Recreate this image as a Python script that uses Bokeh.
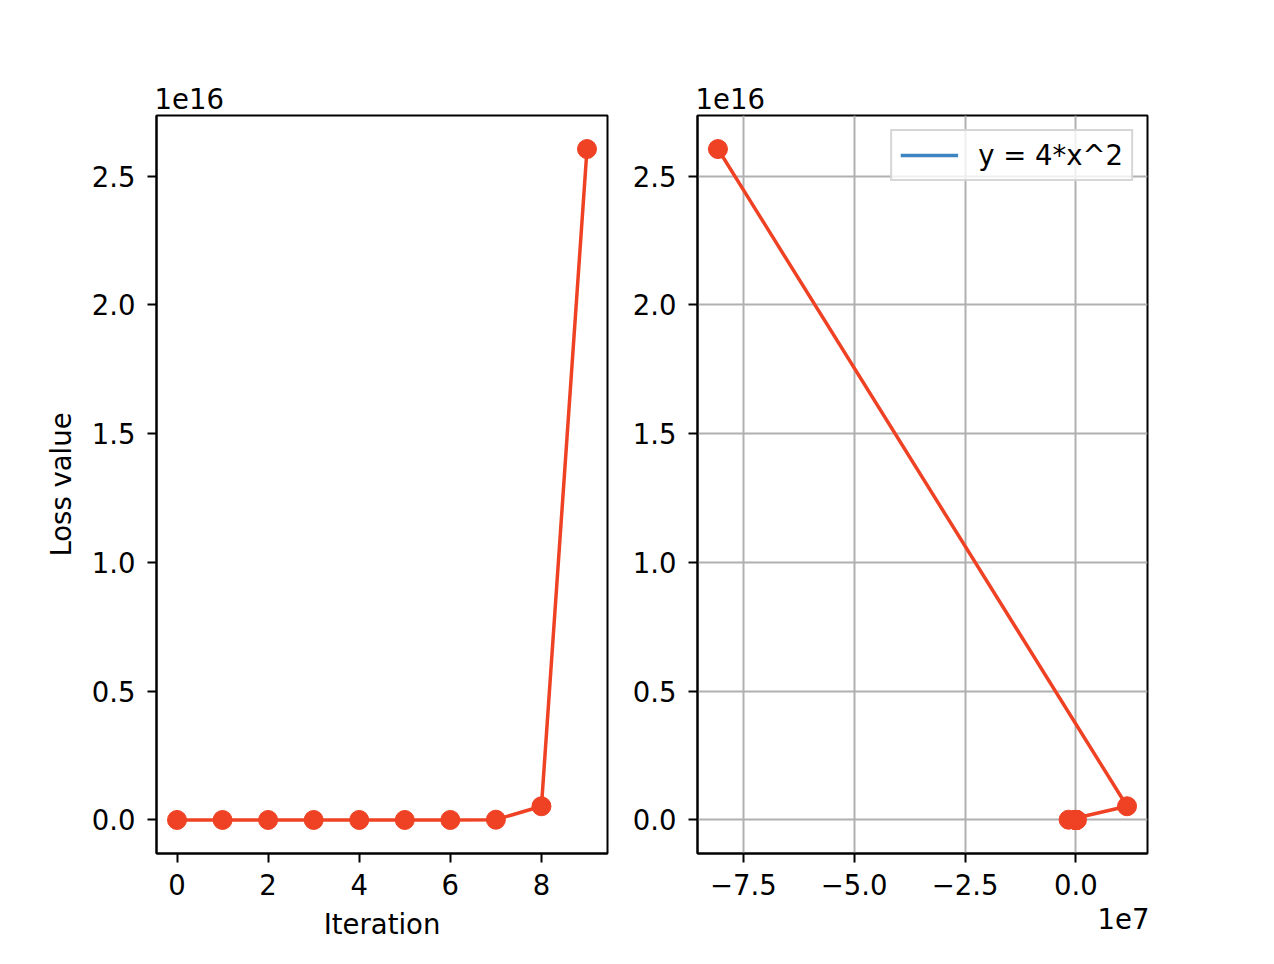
import numpy as np
from bokeh.plotting import figure
from bokeh.layouts import row
from bokeh.models import Range1d, FixedTicker, CustomJSTickFormatter, Title
from bokeh.embed import file_html
from bokeh.resources import INLINE

# data
iterations = [0, 1, 2, 3, 4, 5, 6, 7, 8, 9]
x_values = [2, -14, 98, -686, 4802, -33614, 235298, -1647086, 11529602, -80707214]
loss_values = [16, 784, 38416, 1882384, 92236816, 4519603984, 221460595216,
               10851569165584, 531726889113616, 26054617566567184]

# reference curve y = 4*x^2 (tiny near origin, hidden beneath the red points)
curve_x = [-10, -5, 0, 5, 10]
curve_y = [400, 100, 0, 100, 400]

iter_ticks = [0, 2, 4, 6, 8]
loss_ticks = [0.0, 0.5e16, 1.0e16, 1.5e16, 2.0e16, 2.5e16]
x_ticks = [-7.5e7, -5.0e7, -2.5e7, 0.0]
legend_text = "y = 4*x^2"

RED = "#ef4123"
BLUE = "#3d85c1"
FONT = "DejaVu Sans"
FS = "27.5px"


def pad(vals):
    lo, hi = min(vals), max(vals)
    m = 0.05 * (hi - lo)
    return Range1d(lo - m, hi + m)


def style(p):
    p.outline_line_color = "black"
    p.outline_line_width = 2
    for ax in (p.xaxis[0], p.yaxis[0]):
        ax.axis_line_color = "black"
        ax.axis_line_width = 2
        ax.major_tick_line_width = 2
        ax.major_tick_out = 9
        ax.major_tick_in = 0
        ax.minor_tick_line_color = None
        ax.major_label_text_font = FONT
        ax.major_label_text_font_size = FS
        ax.major_label_text_color = "black"
        ax.axis_label_text_font = FONT
        ax.axis_label_text_font_size = FS
        ax.axis_label_text_font_style = "normal"
        ax.axis_label_text_color = "black"
    p.xaxis[0].major_label_standoff = 11
    p.yaxis[0].major_label_standoff = 12
    p.xaxis[0].axis_label_standoff = 10
    p.yaxis[0].axis_label_standoff = 12
    p.title.text_font = FONT
    p.title.text_font_size = FS
    p.title.text_font_style = "normal"
    p.title.text_color = "black"
    p.title.align = "left"
    p.title.offset = -2
    p.title.standoff = 14


y_formatter = CustomJSTickFormatter(code="return (tick/1e16).toFixed(1).replace('-', '\u2212');")

p1 = figure(frame_width=451, frame_height=738, min_border_left=156, min_border_right=5,
            min_border_top=115, min_border_bottom=111, output_backend="svg",
            toolbar_location=None, title="1e16",
            x_range=pad(iterations), y_range=pad(loss_values))
style(p1)
p1.xgrid.visible = False
p1.ygrid.visible = False
p1.xaxis.ticker = FixedTicker(ticks=iter_ticks)
p1.yaxis.ticker = FixedTicker(ticks=loss_ticks)
p1.yaxis.formatter = y_formatter
p1.xaxis.axis_label = "Iteration"
p1.yaxis.axis_label = "Loss value"
p1.line(iterations, loss_values, color=RED, line_width=3.5)
p1.scatter(iterations, loss_values, color=RED, size=19)

p2 = figure(frame_width=450, frame_height=738, min_border_left=85, min_border_right=127,
            min_border_top=115, min_border_bottom=111, output_backend="svg",
            toolbar_location=None, title="1e16",
            x_range=pad(x_values), y_range=pad(loss_values))
style(p2)
for g in (p2.xgrid[0], p2.ygrid[0]):
    g.grid_line_color = "#b0b0b0"
    g.grid_line_width = 2
p2.xaxis.ticker = FixedTicker(ticks=x_ticks)
p2.yaxis.ticker = FixedTicker(ticks=loss_ticks)
p2.yaxis.formatter = y_formatter
p2.xaxis.formatter = CustomJSTickFormatter(code="return (tick/1e7).toFixed(1).replace('-', '\u2212');")
p2.add_layout(Title(text="1e7", align="right", text_font=FONT, text_font_size=FS,
                    text_font_style="normal", text_color="black", offset=-2,
                    standoff=16), "below")
p2.line(curve_x, curve_y, color=BLUE, line_width=3.5, legend_label=legend_text)
p2.line(x_values, loss_values, color=RED, line_width=3.5)
p2.scatter(x_values, loss_values, color=RED, size=19)
lg = p2.legend[0]
lg.location = "top_right"
lg.margin = 14
lg.border_line_color = "#cccccc"
lg.border_line_width = 2
lg.border_line_alpha = 0.8
lg.background_fill_alpha = 0.8
lg.label_text_font = FONT
lg.label_text_font_size = FS
lg.label_text_color = "black"
lg.glyph_width = 58
lg.label_standoff = 20
lg.padding = 8
lg.spacing = 0

layout = row(p1, p2)
open("out.html", "w").write(file_html(layout, INLINE))
